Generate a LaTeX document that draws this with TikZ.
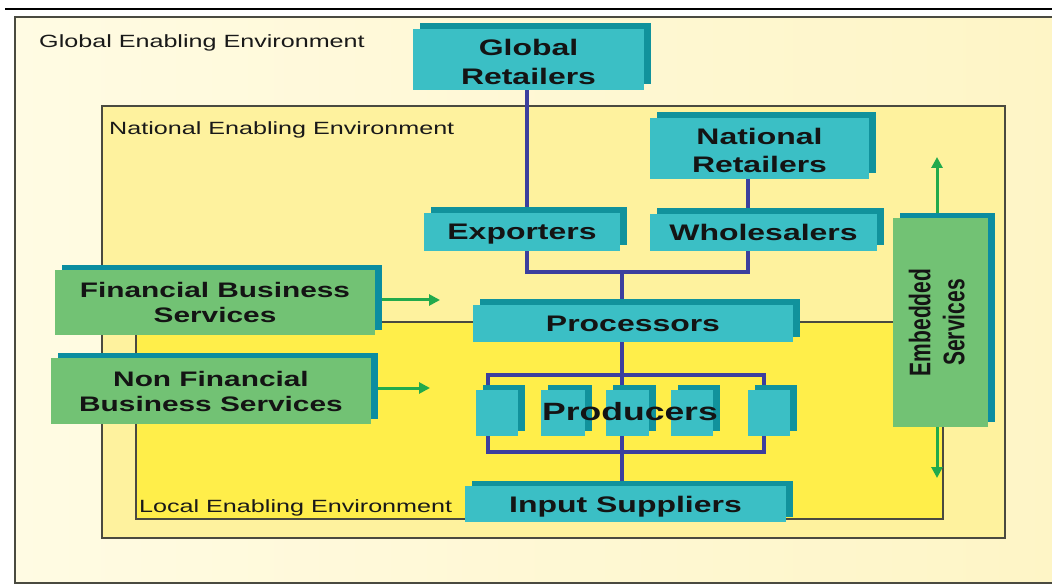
\documentclass[tikz,border=0pt]{standalone}
\usepackage{fontspec}
\setmainfont{Liberation Sans}[FakeStretch=1.42]
\newfontfamily\rotfont{Liberation Sans}
\usetikzlibrary{arrows.meta,shadows}
\definecolor{outerbg}{HTML}{FEF5C6}
\definecolor{outerlight}{HTML}{FFFBE3}
\definecolor{natbg}{HTML}{FEF29E}
\definecolor{locbg}{HTML}{FFEE4A}
\definecolor{envline}{HTML}{4A4A40}
\definecolor{tealface}{HTML}{3BBFC5}
\definecolor{tealshade}{HTML}{11929C}
\definecolor{greenface}{HTML}{72C274}
\definecolor{greenshade}{HTML}{0B8DA0}
\definecolor{linkblue}{HTML}{3C3F9E}
\definecolor{arrowgreen}{HTML}{22AA4C}
\pgfdeclarelayer{envlayer}
\pgfdeclarelayer{linklayer}
\pgfsetlayers{envlayer,linklayer,main}
\tikzset{
  envbox/.style={draw=envline, line width=1.3pt},
  envlabel/.style={anchor=base west, inner sep=0pt, font=\fontsize{17.7}{20}\selectfont, text=black!90},
  box/.style={draw=none, inner sep=0pt, align=center, text depth=0pt, text=black!92,
    font=\bfseries\fontsize{22.5}{28.5}\selectfont},
  tealbox/.style={box, fill=tealface, general shadow={fill=tealshade, shadow xshift=7pt, shadow yshift=5.5pt}},
  greenbox/.style={box, fill=greenface, general shadow={fill=greenshade, shadow xshift=7pt, shadow yshift=5pt},
    font=\bfseries\fontsize{21}{25}\selectfont},
  link/.style={draw=linkblue, line width=3.5pt},
  garrow/.style={draw=arrowgreen, line width=3pt, -{Triangle[length=11pt,width=11pt]}}
}
\begin{document}
\begin{tikzpicture}[x=1pt,y=-1pt]
\useasboundingbox (0,0) rectangle (1052,585);
\begin{pgfonlayer}{envlayer}
  \fill[white] (0,0) rectangle (1052,585);
  \draw[black, line width=1.5pt] (5,9) -- (1052,9);
  \fill[left color=outerlight, right color=outerbg] (15,17) rectangle (1052,583);
  \draw[envbox] (1052,17) -- (15,17) -- (15,583) -- (1052,583);
  \draw[envbox, fill=natbg] (102,106) rectangle (1005,538);
  \draw[envbox, fill=locbg] (136,322) rectangle (943,519);
\end{pgfonlayer}

\node[envlabel] (gee) at (39,47.5) {Global Enabling Environment};
\node[envlabel] (nee) at (109,135) {National Enabling Environment};
\node[envlabel] (lee) at (139,512.5) {Local Enabling Environment};

\node[tealbox, minimum width=231pt, minimum height=61pt, text height=50pt] (gr) at (528.5,59.5) {Global\\Retailers};
\node[tealbox, minimum width=219pt, minimum height=61pt, text height=49pt] (nr) at (759.5,148.5) {National\\Retailers};
\node[tealbox, minimum width=196pt, minimum height=38pt] (exp) at (522,232) {Exporters};
\node[tealbox, minimum width=227pt, minimum height=37pt] (whs) at (763.5,232.5) {Wholesalers};
\node[tealbox, minimum width=320pt, minimum height=37pt] (prc) at (633,323.5) {Processors};
\node[tealbox, minimum width=321pt, minimum height=36pt] (ins) at (625.5,504) {Input Suppliers};

\node[greenbox, minimum width=320pt, minimum height=65pt] (fbs) at (215,302.5) {Financial Business\\Services};
\node[greenbox, minimum width=320pt, minimum height=66pt] (nfb) at (211,391) {Non Financial\\Business Services};
\node[greenbox, minimum width=95pt, minimum height=209pt] (es) at (940.5,322.5)
  {\rotatebox{90}{\scalebox{1}[1.42]{\rotfont\bfseries\fontsize{21}{24}\selectfont\begin{tabular}{@{}c@{}}Embedded\\Services\end{tabular}}}};

\node[tealbox, minimum width=42pt, minimum height=46pt] (p1) at (497,413) {};
\node[tealbox, minimum width=44pt, minimum height=46pt] (p2) at (563,413) {};
\node[tealbox, minimum width=43pt, minimum height=46pt] (p3) at (627.5,413) {};
\node[tealbox, minimum width=42pt, minimum height=46pt] (p4) at (692,413) {};
\node[tealbox, minimum width=42pt, minimum height=46pt] (p5) at (769,413) {};
\node[inner sep=0pt, text depth=0pt, font=\bfseries\fontsize{25}{30}\selectfont, text=black!92] (prod) at (630,411) {Producers};

\coordinate (jl) at (527,272);
\coordinate (jr) at (748,272);
\coordinate (jm) at (622,272);
\coordinate (bk1) at (488,375);
\coordinate (bk2) at (764,452);
\coordinate (fa) at (440,300);
\coordinate (na) at (430,388);
\coordinate (eu) at (937,157);
\coordinate (ed) at (937,478);

\begin{pgfonlayer}{linklayer}
  \draw[link] (gr.south -| jl) -- (jl) -- (jr) -- (nr.south -| jr);
  \draw[link] (jm) -- (jm |- ins.north);
  \draw[link] (bk1) rectangle (bk2);
  \draw[garrow] (fbs.east |- fa) -- (fa);
  \draw[garrow] (nfb.east |- na) -- (na);
  \draw[garrow] (es.north -| eu) -- (eu);
  \draw[garrow] (es.south -| ed) -- (ed);
\end{pgfonlayer}
\end{tikzpicture}
\end{document}
